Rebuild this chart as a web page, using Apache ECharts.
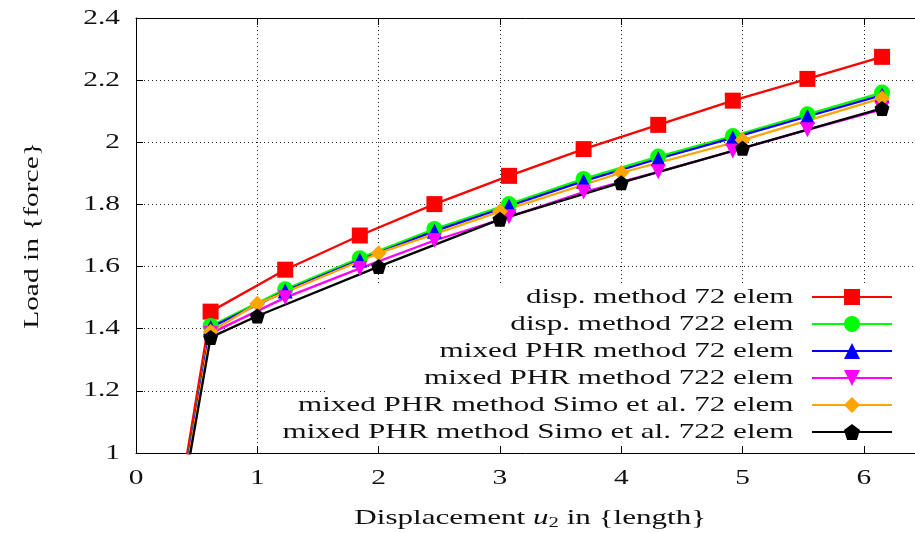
<!DOCTYPE html>
<html>
<head>
<meta charset="utf-8">
<script src="https://cdn.jsdelivr.net/npm/echarts@6/dist/echarts.min.js"></script>
<style>
html,body{margin:0;padding:0;background:#fff;}
#chart{width:915px;height:533px;}
</style>
</head>
<body>
<div id="chart"></div>
<script>
// x values (displacement)
var xFine = [0, 0.615, 1.23, 1.845, 2.46, 3.075, 3.69, 4.305, 4.92, 5.535, 6.15];
var xSimo = [0, 0.615, 1, 2, 3, 4, 5, 6.15];

// load values
var disp72 = [0, 1.455, 1.590, 1.700, 1.801, 1.892, 1.978, 2.056, 2.134, 2.204, 2.275];
var disp722 = [0, 1.409, 1.527, 1.627, 1.721, 1.801, 1.882, 1.954, 2.020, 2.090, 2.160];
var phr72 = [0, 1.404, 1.521, 1.621, 1.714, 1.795, 1.875, 1.947, 2.014, 2.083, 2.152];
var phr722 = [0, 1.385, 1.500, 1.594, 1.684, 1.760, 1.840, 1.905, 1.972, 2.040, 2.106];
var simo72 = [0, 1.390, 1.480, 1.643, 1.777, 1.902, 2.007, 2.142];
var simo722 = [0, 1.372, 1.441, 1.600, 1.752, 1.870, 1.981, 2.109];

var seriesNames = [
  'disp. method 72 elem',
  'disp. method 722 elem',
  'mixed PHR method 72 elem',
  'mixed PHR method 722 elem',
  'mixed PHR method Simo et al. 72 elem',
  'mixed PHR method Simo et al. 722 elem'
];

var FONT = '"Liberation Serif", "DejaVu Serif", serif';

function pairs(xs, ys) {
  return xs.map(function (x, i) { return [x, ys[i]]; });
}

var pentagon = 'path://M0,-10 L9.51,-3.09 L5.88,8.09 L-5.88,8.09 L-9.51,-3.09 Z';

function mk(name, xs, ys, color, symbol, size, rot) {
  return {
    name: name,
    type: 'line',
    xAxisIndex: 0,
    yAxisIndex: 0,
    data: pairs(xs, ys),
    symbol: symbol,
    symbolSize: size,
    symbolRotate: rot || 0,
    showAllSymbol: true,
    clip: true,
    animation: false,
    lineStyle: { color: color, width: 2.3 },
    itemStyle: { color: color, borderWidth: 0 },
    emphasis: { disabled: true }
  };
}

var chart = echarts.init(document.getElementById('chart'), null, { renderer: 'canvas' });

var gridOpt = { left: 136, top: 18, width: 788.5, height: 435, outerBoundsMode: 'none', containLabel: false };

var axisFrame = { show: true, lineStyle: { color: '#000', width: 1 } };
var gridLine = { show: true, lineStyle: { color: '#222', width: 1, type: [1, 3] } };

chart.setOption({
  animation: false,
  backgroundColor: '#fff',
  grid: gridOpt,
  xAxis: [
    {
      type: 'value', position: 'bottom', min: 0, max: 6.5, interval: 1, z: 3,
      axisLine: axisFrame,
      axisTick: { show: true, inside: true, length: 7, lineStyle: { color: '#000' } },
      axisLabel: { show: true, margin: 15, color: '#111', fontFamily: FONT, fontSize: 21, showMaxLabel: false },
      splitLine: { show: false },
      name: 'Displacement {i|u}{s|2} in {length}',
      nameLocation: 'middle',
      nameGap: 53,
      nameTextStyle: {
        color: '#111', fontFamily: FONT, fontSize: 21,
        rich: {
          i: { fontFamily: FONT, fontSize: 21, fontStyle: 'italic', color: '#111' },
          s: { fontFamily: FONT, fontSize: 14, color: '#111', padding: [10, 0, 0, 0] }
        }
      }
    },
    {
      type: 'value', position: 'top', min: 0, max: 6.5, interval: 1, z: 3,
      axisLine: axisFrame,
      axisTick: { show: true, inside: true, length: 7, lineStyle: { color: '#000' } },
      axisLabel: { show: false },
      splitLine: { show: false }
    },
    {
      type: 'value', position: 'bottom', min: 0, max: 6.5, interval: 1, z: 0,
      axisLine: { show: false },
      axisTick: { show: false },
      axisLabel: { show: false },
      splitLine: gridLine
    }
  ],
  yAxis: [
    {
      type: 'value', position: 'left', min: 1, max: 2.4, interval: 0.2, z: 3,
      axisLine: axisFrame,
      axisTick: { show: true, inside: true, length: 7, lineStyle: { color: '#000' } },
      axisLabel: { show: true, margin: 16, color: '#111', fontFamily: FONT, fontSize: 21 },
      splitLine: { show: false },
      name: 'Load in {force}',
      nameLocation: 'middle',
      nameGap: 93,
      nameTextStyle: { color: '#111', fontFamily: FONT, fontSize: 21 }
    },
    {
      type: 'value', position: 'right', min: 1, max: 2.4, interval: 0.2, z: 0,
      axisLine: { show: false },
      axisTick: { show: false },
      axisLabel: { show: false },
      splitLine: gridLine
    }
  ],
  graphic: [
    {
      type: 'rect', z: 1, silent: true,
      shape: { x: 328, y: 284, width: 600, height: 168 },
      style: { fill: '#fff' }
    }
  ],
  legend: {
    show: true,
    orient: 'vertical',
    right: 22,
    top: 286.5,
    align: 'right',
    itemWidth: 80,
    itemHeight: 20,
    itemGap: 6,
    padding: 0,
    z: 4,
    selectedMode: false,
    data: seriesNames,
    textStyle: { fontFamily: FONT, fontSize: 21, color: '#111', lineHeight: 21, padding: [0, 7.5, 0, 0] }
  },
  series: [
    mk(seriesNames[0], xFine, disp72, '#ff0000', 'rect', 16),
    mk(seriesNames[1], xFine, disp722, '#00ff00', 'circle', 16),
    mk(seriesNames[2], xFine, phr72, '#0000ff', 'triangle', 15),
    mk(seriesNames[3], xFine, phr722, '#ff00ff', 'triangle', 15, 180),
    mk(seriesNames[4], xSimo, simo72, '#ffa500', 'diamond', 16),
    mk(seriesNames[5], xSimo, simo722, '#000000', pentagon, 15)
  ]
});

// The reference typesets its text in a wide (Computer Modern-like) face;
// widen the rendered text along its baseline, keeping each label's anchor.
(function stretchTexts() {
  var zr = chart.getZr();
  function factor(t) {
    if (/^[0-9.]+$/.test(t)) return 1.4;
    if (t === 'Load in {force}') return 1.4;
    return 1.48;
  }
  function walk(el) {
    if (el.type === 'text' && el.style && typeof el.style.text === 'string') {
      el.scaleX = factor(el.style.text);
      el.markRedraw();
    }
    if (el.isGroup) el.eachChild(walk);
  }
  zr.storage.getRoots().forEach(walk);
  zr.refresh();
})();
</script>
</body>
</html>
